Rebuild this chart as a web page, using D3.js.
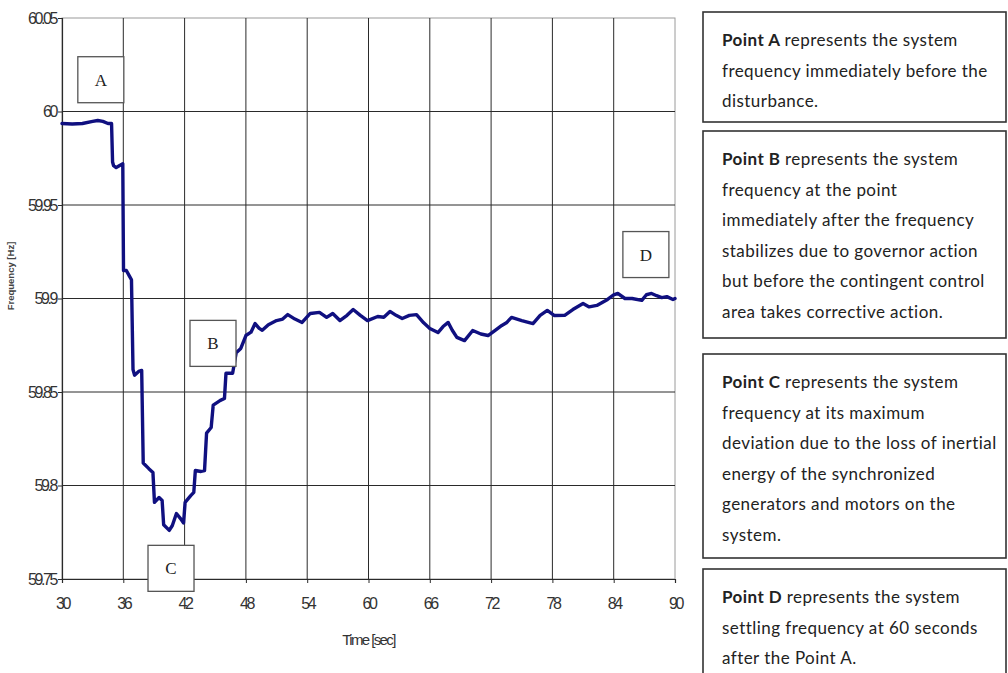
<!DOCTYPE html>
<html><head><meta charset="utf-8">
<script src="https://cdn.jsdelivr.net/npm/d3@7"></script>
<style>
body{margin:0;background:#fff;}
svg{display:block;}
</style></head>
<body>
<svg id="c" width="1008" height="673"></svg>
<script>
// ---- data ----
const times = [30.0,31.0,32.0,33.0,33.5,34.0,34.5,34.85,34.95,35.05,35.3,35.6,35.95,36.02,36.3,36.6,36.8,36.95,37.1,37.5,37.8,37.95,38.5,38.9,39.05,39.5,39.8,39.95,40.5,40.8,41.2,41.6,41.9,42.05,42.6,42.9,43.05,43.6,43.95,44.15,44.6,44.8,45.5,45.9,46.05,46.7,47.05,47.5,48.0,48.5,48.9,49.3,49.6,50.2,51.0,51.6,52.1,52.8,53.5,54.3,55.2,55.9,56.5,57.2,57.9,58.5,59.2,59.9,60.9,61.5,62.1,62.7,63.3,64.0,64.7,65.4,66.0,66.8,67.3,67.8,68.2,68.65,69.4,70.2,71.0,71.7,72.4,73.05,73.5,74.0,75.0,76.1,76.8,77.5,78.2,79.2,80.0,81.0,81.6,82.35,83.4,84.0,84.4,85.1,85.8,86.75,87.2,87.7,88.2,88.7,89.2,89.8,90.0];
const freqs = [59.9936,59.9933,59.9936,59.9947,59.9952,59.9947,59.9936,59.9936,59.9730,59.9710,59.9700,59.9710,59.9720,59.9150,59.9150,59.9120,59.9100,59.8620,59.8590,59.8610,59.8615,59.8120,59.8090,59.8070,59.7910,59.7936,59.7920,59.7790,59.7760,59.7786,59.7850,59.7823,59.7800,59.7910,59.7946,59.7963,59.8080,59.8075,59.8080,59.8280,59.8310,59.8430,59.8455,59.8465,59.8600,59.8600,59.8710,59.8733,59.8802,59.8820,59.8866,59.8840,59.8830,59.8860,59.8882,59.8890,59.8914,59.8890,59.8872,59.8920,59.8926,59.8899,59.8920,59.8882,59.8910,59.8941,59.8910,59.8882,59.8904,59.8900,59.8931,59.8910,59.8893,59.8910,59.8914,59.8870,59.8840,59.8818,59.8850,59.8872,59.8830,59.8792,59.8775,59.8829,59.8810,59.8802,59.8830,59.8856,59.8870,59.8899,59.8882,59.8866,59.8910,59.8936,59.8909,59.8910,59.8941,59.8973,59.8955,59.8963,59.8995,59.9020,59.9027,59.9000,59.9000,59.8990,59.9020,59.9027,59.9015,59.9005,59.9010,59.8995,59.9000];
const xTicks = [30,36,42,48,54,60,66,72,78,84,90];
const yTicks = [59.75,59.8,59.85,59.9,59.95,60,60.05];
const yTickLabels = ["59.75","59.8","59.85","59.9","59.95","60","60.05"];
const markers = [
  {label:"A", t:33.8, f:60.017},
  {label:"B", t:44.78, f:59.876},
  {label:"C", t:40.67, f:59.7557},
  {label:"D", t:87.15, f:59.9235}
];
const notes = [
  {bold:"Point A", lines:["represents the system","frequency immediately before the","disturbance."]},
  {bold:"Point B", lines:["represents the system","frequency at the point","immediately after the frequency","stabilizes due to governor action","but before the contingent control","area takes corrective action."]},
  {bold:"Point C", lines:["represents the system","frequency at its maximum","deviation due to the loss of inertial","energy of the synchronized","generators and motors on the","system."]},
  {bold:"Point D", lines:["represents the system","settling frequency at 60 seconds","after the Point A."]}
];

// ---- layout ----
const svg = d3.select("#c");
const L = 62, R = 675, T = 18, B = 579;
const x = d3.scaleLinear().domain([30,90]).range([L,R]);
const y = d3.scaleLinear().domain([59.75,60.05]).range([B,T]);

// frame top/right
svg.append("rect").attr("x",L).attr("y",T).attr("width",R-L).attr("height",B-T)
  .attr("fill","none").attr("stroke","#9a9a9a").attr("stroke-width",1);

// gridlines
svg.append("g").selectAll("line").data(xTicks.slice(1,-1)).join("line")
  .attr("x1",d=>x(d)).attr("x2",d=>x(d)).attr("y1",T).attr("y2",B)
  .attr("stroke","#2a2a2a").attr("stroke-width",1);
svg.append("g").selectAll("line").data(yTicks.slice(1,-1)).join("line")
  .attr("x1",L).attr("x2",R).attr("y1",d=>y(d)).attr("y2",d=>y(d))
  .attr("stroke","#2a2a2a").attr("stroke-width",1);

// axes
const tickFont = "'Liberation Sans Narrow','Arial Narrow','Liberation Sans',sans-serif";
const gx = svg.append("g").attr("transform",`translate(0,${B})`)
  .call(d3.axisBottom(x).tickValues(xTicks).tickSize(4).tickPadding(15).tickFormat(d3.format("d")));
const gy = svg.append("g").attr("transform",`translate(${L},0)`)
  .call(d3.axisLeft(y).tickValues(yTicks).tickSize(4).tickPadding(2).tickFormat((d,i)=>yTickLabels[i]));
[gx,gy].forEach(g=>{
  g.select(".domain").attr("stroke","#2a2a2a").attr("stroke-width",1.2);
  g.selectAll(".tick line").attr("stroke","#2a2a2a");
  g.selectAll(".tick text").attr("font-family",tickFont).attr("font-size",16)
    .attr("letter-spacing","-2.4px").attr("fill","#333");
});

// axis titles
svg.append("text").attr("x",x(60)).attr("y",645).attr("text-anchor","middle")
  .attr("font-family",tickFont).attr("font-size",15).attr("letter-spacing","-1.6px")
  .attr("fill","#333").text("Time [sec]");
svg.append("text").attr("transform","translate(14,276) rotate(-90)").attr("text-anchor","middle")
  .attr("font-family","'Liberation Sans',Arial,sans-serif").attr("font-weight","bold")
  .attr("font-size",9.5).attr("fill","#444").text("Frequency [Hz]");

// series line
const pts = times.map((t,i)=>[t,freqs[i]]);
svg.append("path").datum(pts)
  .attr("d",d3.line().x(d=>x(d[0])).y(d=>y(d[1])))
  .attr("fill","none").attr("stroke","#101080").attr("stroke-width",3.4)
  .attr("stroke-linejoin","round").attr("stroke-linecap","round");

// marker boxes
const mg = svg.append("g").selectAll("g").data(markers).join("g")
  .attr("transform",d=>`translate(${x(d.t)},${y(d.f)})`);
mg.append("rect").attr("x",-23).attr("y",-23).attr("width",46).attr("height",46)
  .attr("fill","#fff").attr("stroke","#555").attr("stroke-width",1.3);
mg.append("text").attr("text-anchor","middle").attr("dy","0.35em")
  .attr("font-family","'Liberation Serif','Times New Roman',serif").attr("font-size",17)
  .attr("fill","#222").text(d=>d.label);

// note boxes
const boxes = [[12,122],[131,338],[354,558],[569,690]];
const lh = 30.6;
const noteFont = "Lato,'Noto Sans',sans-serif";
notes.forEach((n,i)=>{
  const [y0,y1] = boxes[i];
  svg.append("rect").attr("x",703).attr("y",y0).attr("width",303).attr("height",y1-y0)
    .attr("fill","#fff").attr("stroke","#333").attr("stroke-width",1.6);
  n.lines.forEach((ln,j)=>{
    const tx = svg.append("text").attr("x",722).attr("y",y0+34+j*lh)
      .attr("font-family",noteFont).attr("font-size",17).attr("fill","#222")
      .attr("letter-spacing","0.45px");
    if(j===0){
      tx.append("tspan").attr("font-weight","bold").text(n.bold+" ");
    }
    tx.append("tspan").text(ln);
  });
});
</script>
</body></html>
